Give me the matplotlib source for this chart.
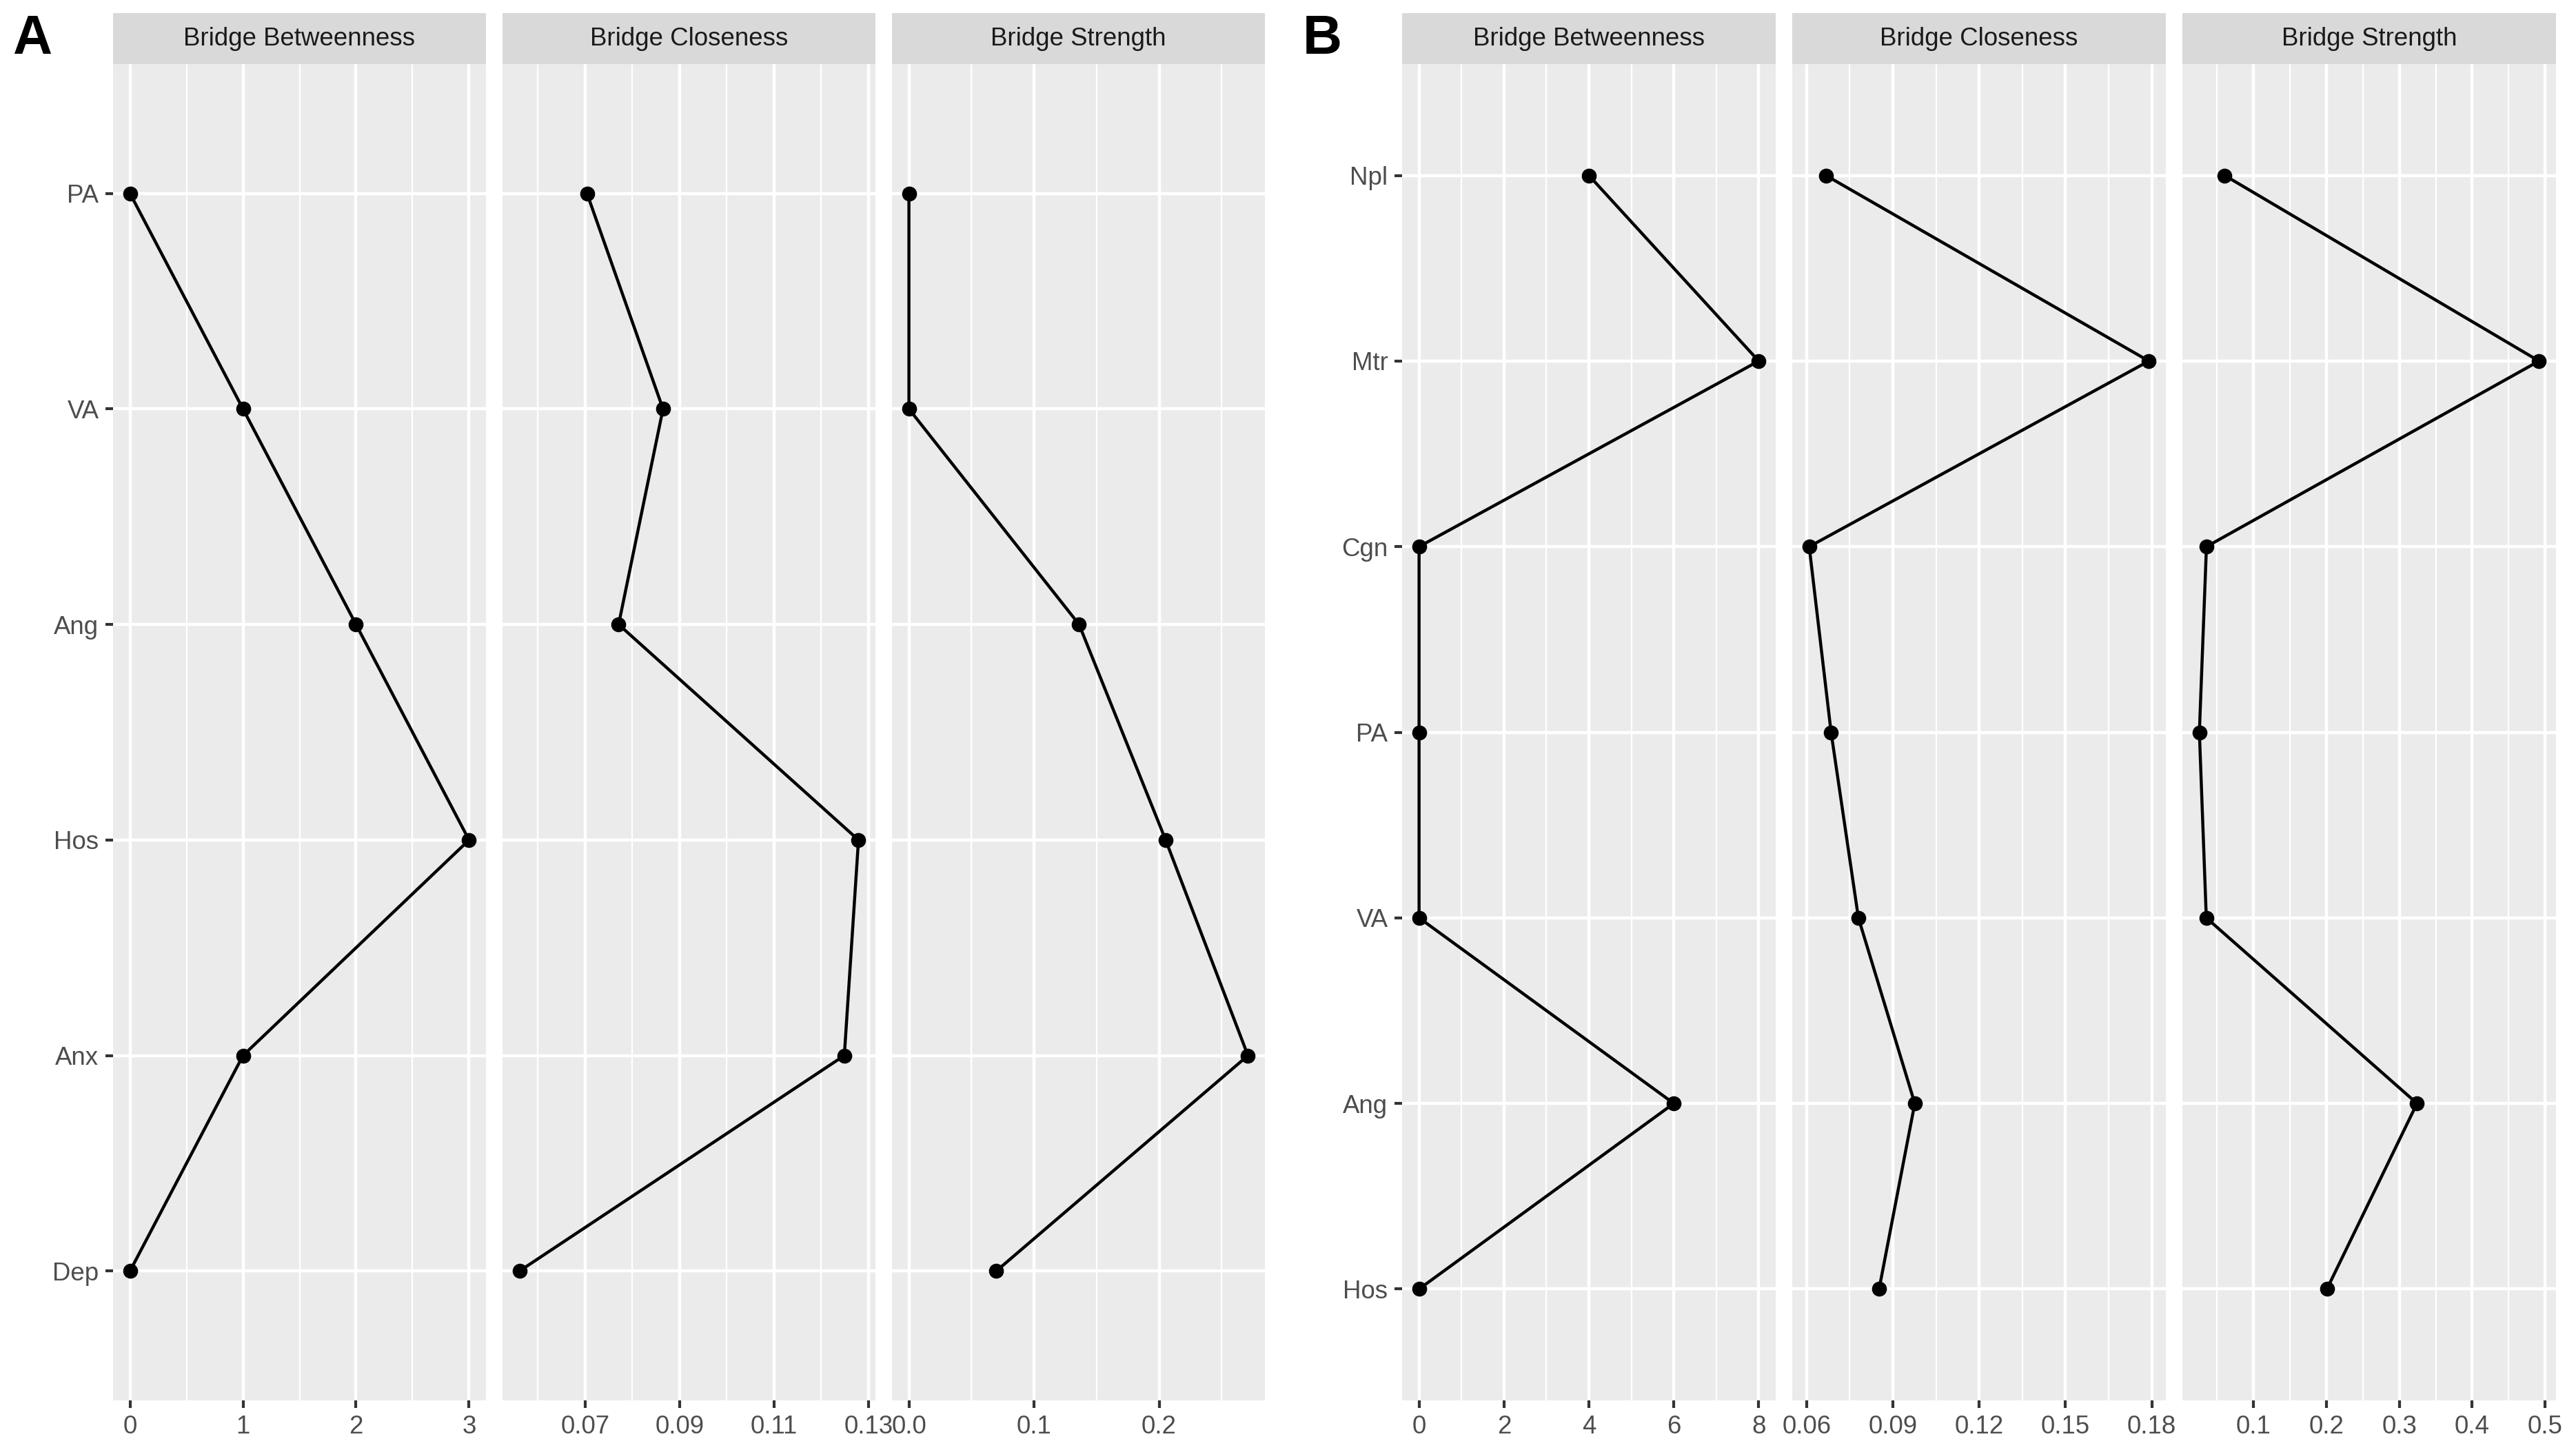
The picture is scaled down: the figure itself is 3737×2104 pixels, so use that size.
import matplotlib
matplotlib.use('Agg')

import numpy as np
import matplotlib.pyplot as plt

plt.rcParams['font.family'] = ['Liberation Sans', 'DejaVu Sans']

# ---- data ----
measures = ['Bridge Betweenness', 'Bridge Closeness', 'Bridge Strength']

cats_a = ['PA', 'VA', 'Ang', 'Hos', 'Anx', 'Dep']
betw_a = [0, 1, 2, 3, 1, 0]
close_a = [0.0704, 0.0865, 0.0771, 0.1279, 0.1249, 0.0561]
strength_a = [0.0, 0.0, 0.136, 0.2052, 0.271, 0.0698]

cats_b = ['Npl', 'Mtr', 'Cgn', 'PA', 'VA', 'Ang', 'Hos']
betw_b = [4, 8, 0, 0, 0, 6, 0]
close_b = [0.0667, 0.1790, 0.0609, 0.0685, 0.0780, 0.0976, 0.0852]
strength_b = [0.0604, 0.4917, 0.0354, 0.0257, 0.0352, 0.3243, 0.2007]

ticks_a = [[0, 1, 2, 3], [0.07, 0.09, 0.11, 0.13], [0.0, 0.1, 0.2]]
labels_a = [['0', '1', '2', '3'], ['0.07', '0.09', '0.11', '0.13'], ['0.0', '0.1', '0.2']]
ticks_b = [[0, 2, 4, 6, 8], [0.06, 0.09, 0.12, 0.15, 0.18], [0.1, 0.2, 0.3, 0.4, 0.5]]
labels_b = [['0', '2', '4', '6', '8'], ['0.06', '0.09', '0.12', '0.15', '0.18'],
            ['0.1', '0.2', '0.3', '0.4', '0.5']]

# ---- layout (pixels) ----
W, H = 3737, 2104
DPI = 300
fig = plt.figure(figsize=(W / DPI, H / DPI), dpi=DPI)

strip_top, panel_top, panel_bottom = 19, 93, 2032
cols_a = [(164, 705), (729, 1270), (1294, 1835)]
cols_b = [(2034, 2576), (2600, 3142), (3166, 3708)]


def rect(x0, x1, y0, y1):
    return [x0 / W, 1 - y1 / H, (x1 - x0) / W, (y1 - y0) / H]


def facet(x0, x1, cats, vals, ticks, labels, title, first):
    ax = fig.add_axes(rect(x0, x1, panel_top, panel_bottom))
    ax.set_facecolor('#EBEBEB')
    n = len(cats)
    y = np.arange(n)

    ax.set_xticks(ticks)
    ax.set_xticklabels(labels)
    minors = [(a + b) / 2 for a, b in zip(ticks[:-1], ticks[1:])]
    step = ticks[1] - ticks[0]
    minors = [ticks[0] - step / 2] + minors + [ticks[-1] + step / 2]
    ax.set_xticks(minors, minor=True)
    ax.set_yticks(y)
    ax.set_yticklabels(cats if first else [])

    # ggplot-style 5% expansion of the data range
    lo, hi = min(vals), max(vals)
    pad = (hi - lo) * 0.05
    ax.set_xlim(lo - pad, hi + pad)
    ax.set_ylim(n - 1 + 0.6, -0.6)

    ax.grid(True, which='major', color='white', lw=1.07)
    ax.grid(True, which='minor', axis='x', color='white', lw=0.53)
    ax.set_axisbelow(True)
    for s in ax.spines.values():
        s.set_visible(False)
    ax.tick_params(which='major', length=2.75, width=1.0, color='#333333',
                   labelsize=8.8, labelcolor='#4D4D4D', pad=2.2)
    ax.tick_params(which='minor', length=0)
    if not first:
        ax.tick_params(axis='y', length=0)

    ax.plot(vals, y, color='black', lw=1.07, zorder=3)
    ax.plot(vals, y, 'o', color='black', ms=4.2, zorder=4)

    sax = fig.add_axes(rect(x0, x1, strip_top, panel_top))
    sax.set_facecolor('#D9D9D9')
    sax.set_xticks([])
    sax.set_yticks([])
    for s in sax.spines.values():
        s.set_visible(False)
    sax.text(0.5, 0.5, title, ha='center', va='center', fontsize=8.8,
             color='#1A1A1A', transform=sax.transAxes)


series_a = [betw_a, close_a, strength_a]
series_b = [betw_b, close_b, strength_b]
for i in range(3):
    facet(*cols_a[i], cats_a, series_a[i], ticks_a[i], labels_a[i], measures[i], i == 0)
    facet(*cols_b[i], cats_b, series_b[i], ticks_b[i], labels_b[i], measures[i], i == 0)

fig.text(18 / W, 1 - 20 / H, 'A', fontsize=19, fontweight='bold', ha='left', va='top')
fig.text(1890 / W, 1 - 20 / H, 'B', fontsize=19, fontweight='bold', ha='left', va='top')

fig.savefig('out.png', dpi=DPI, facecolor='white')
